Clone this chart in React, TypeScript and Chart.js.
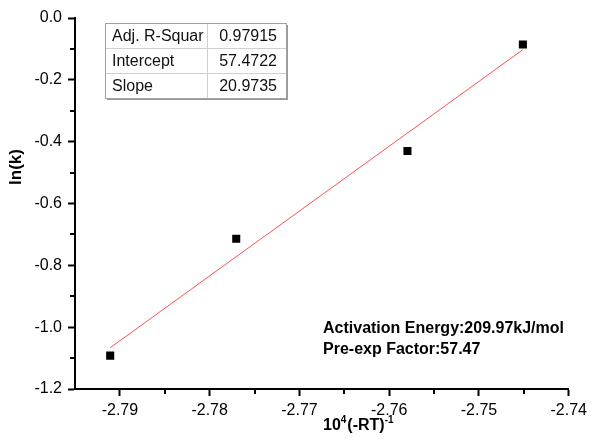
import React, { useEffect, useRef } from 'react';
import { Chart, registerables } from 'chart.js';
Chart.register(...registerables);

// ---- data ----
const xValues = [-2.79108, -2.77704, -2.75797, -2.74511];
const yValues = [-1.092, -0.714, -0.43, -0.086];
const fitIntercept = 57.4722;
const fitSlope = 20.9735;
const statNames = ['Adj. R-Squar', 'Intercept', 'Slope'];
const statValues = ['0.97915', '57.4722', '20.9735'];
const noteLines = ['Activation Energy:209.97kJ/mol', 'Pre-exp Factor:57.47'];
const xTicks = [-2.79, -2.78, -2.77, -2.76, -2.75, -2.74];
const yTicks = [0.0, -0.2, -0.4, -0.6, -0.8, -1.0, -1.2];
const xMinorTicks = [-2.795, -2.785, -2.775, -2.765, -2.755, -2.745];
const yMinorTicks = [-0.1, -0.3, -0.5, -0.7, -0.9, -1.1];
const yTitle = 'ln(k)';

const FONT = '"Liberation Sans", Arial, sans-serif';

const decorPlugin = {
  id: 'decor',
  afterDraw(chart: any) {
    const ctx = chart.ctx as CanvasRenderingContext2D;
    const xs = chart.scales.x;
    const ys = chart.scales.y;
    const area = chart.chartArea;
    ctx.save();
    // minor ticks
    ctx.strokeStyle = '#000';
    ctx.lineWidth = 2;
    ctx.beginPath();
    for (const v of xMinorTicks) {
      const px = Math.round(xs.getPixelForValue(v));
      if (px <= area.left + 1) continue;
      ctx.moveTo(px, area.bottom);
      ctx.lineTo(px, area.bottom + 5);
    }
    for (const v of yMinorTicks) {
      const py = Math.round(ys.getPixelForValue(v));
      ctx.moveTo(area.left, py);
      ctx.lineTo(area.left - 5, py);
    }
    ctx.stroke();

    // stats table
    const tx = 105, ty = 23, tw = 181, rh = 25, colX = 207;
    const th = rh * statNames.length;
    ctx.fillStyle = '#9a9a9a';
    ctx.fillRect(tx + 2, ty + 2, tw, th);
    ctx.fillStyle = '#fff';
    ctx.fillRect(tx, ty, tw, th);
    ctx.strokeStyle = '#d0d0d0';
    ctx.lineWidth = 1;
    ctx.beginPath();
    for (let i = 1; i < statNames.length; i++) {
      ctx.moveTo(tx, ty + rh * i + 0.5);
      ctx.lineTo(tx + tw, ty + rh * i + 0.5);
    }
    ctx.moveTo(colX + 0.5, ty);
    ctx.lineTo(colX + 0.5, ty + th);
    ctx.stroke();
    ctx.strokeStyle = '#a0a0a0';
    ctx.strokeRect(tx + 0.5, ty + 0.5, tw, th);
    ctx.fillStyle = '#111';
    ctx.font = `16px ${FONT}`;
    ctx.textBaseline = 'alphabetic';
    statNames.forEach((name, i) => {
      const by = ty + rh * i + 18;
      ctx.textAlign = 'left';
      ctx.fillText(name, tx + 7, by);
      ctx.textAlign = 'right';
      ctx.fillText(statValues[i], tx + tw - 9, by);
    });

    // note text
    ctx.fillStyle = '#000';
    ctx.font = `bold 16px ${FONT}`;
    ctx.textAlign = 'left';
    ctx.fillText(noteLines[0], 323, 333);
    ctx.fillText(noteLines[1], 323, 354);

    // y title
    ctx.save();
    ctx.translate(21, 167);
    ctx.rotate(-Math.PI / 2);
    ctx.font = `bold 17px ${FONT}`;
    ctx.textAlign = 'center';
    ctx.fillText(yTitle, 0, 0);
    ctx.restore();

    // x title: 10^4(-RT)^-1
    let cx = 323;
    const base = 430;
    ctx.textAlign = 'left';
    const parts: [string, boolean][] = [['10', false], ['4', true], ['(-RT)', false], ['-1', true]];
    for (const [t, sup] of parts) {
      ctx.font = sup ? `bold 10px ${FONT}` : `bold 16px ${FONT}`;
      ctx.fillText(t, cx, sup ? base - 7 : base);
      cx += ctx.measureText(t).width + (sup ? 1 : 0);
    }
    ctx.restore();
  },
};

export default function App() {
  const ref = useRef<HTMLCanvasElement | null>(null);
  useEffect(() => {
    const canvas = ref.current!;
    const pts = xValues.map((x, i) => ({ x, y: yValues[i] }));
    const x0 = xValues[0];
    const x1 = xValues[xValues.length - 1];
    const fit = [
      { x: x0, y: fitIntercept + fitSlope * x0 },
      { x: x1, y: fitIntercept + fitSlope * x1 },
    ];
    const tickFont = { family: FONT, size: 16 };
    const chart = new Chart(canvas, {
      type: 'scatter',
      data: {
        datasets: [
          {
            data: fit,
            showLine: true,
            borderColor: 'rgb(255,80,80)',
            borderWidth: 1,
            pointRadius: 0,
            fill: false,
          },
          {
            data: pts,
            pointStyle: 'rect',
            pointRadius: 5.7,
            pointBackgroundColor: '#000',
            pointBorderWidth: 0,
            showLine: false,
          },
        ],
      },
      options: {
        animation: false,
        responsive: false,
        devicePixelRatio: 1,
        layout: { padding: { top: 18, right: 20, left: 0, bottom: 0 } },
        plugins: { legend: { display: false }, tooltip: { enabled: false } },
        scales: {
          x: {
            type: 'linear',
            min: -2.795,
            max: -2.74,
            afterBuildTicks: (s: any) => {
              s.ticks = xTicks.map((v) => ({ value: v }));
            },
            afterFit: (s: any) => {
              s.height = 54;
            },
            ticks: {
              font: tickFont,
              color: '#000',
              padding: 5,
              maxRotation: 0,
              autoSkip: false,
              callback: (v: any) => Number(v).toFixed(2),
            },
            grid: {
              drawOnChartArea: false,
              drawTicks: true,
              tickLength: 7,
              tickWidth: 2,
              tickColor: '#000',
            },
            border: { display: true, color: '#000', width: 2 },
          },
          y: {
            type: 'linear',
            min: -1.2,
            max: 0,
            afterBuildTicks: (s: any) => {
              s.ticks = yTicks.map((v) => ({ value: v }));
            },
            afterFit: (s: any) => {
              s.width = 75;
            },
            ticks: {
              font: tickFont,
              color: '#000',
              padding: 6,
              autoSkip: false,
              callback: (v: any) => Number(v).toFixed(1),
            },
            grid: {
              drawOnChartArea: false,
              drawTicks: true,
              tickLength: 7,
              tickWidth: 2,
              tickColor: '#000',
            },
            border: { display: true, color: '#000', width: 2 },
          },
        },
      },
      plugins: [decorPlugin],
    } as any);
    return () => chart.destroy();
  }, []);
  return (
    <div style={{ position: 'fixed', left: 0, top: 0, width: 592, height: 443, background: '#fff' }}>
      <canvas ref={ref} width={592} height={443} style={{ width: 592, height: 443, display: 'block' }} />
    </div>
  );
}
